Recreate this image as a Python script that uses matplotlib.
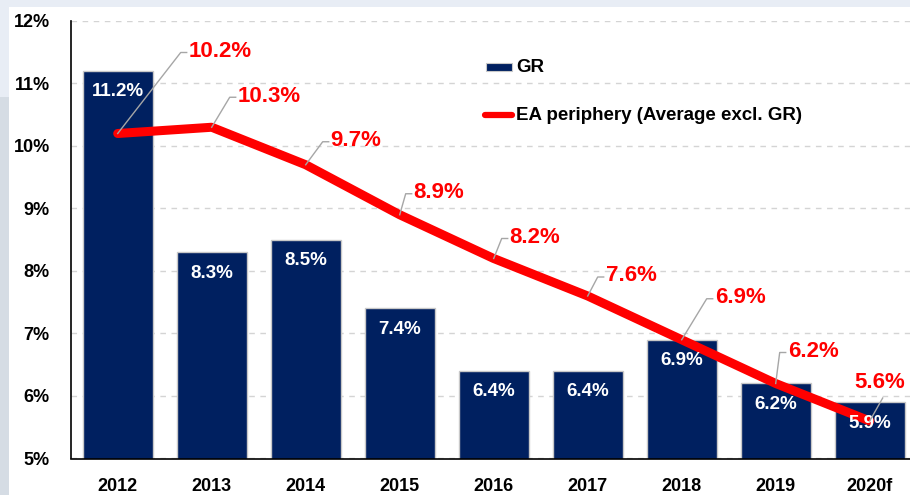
import matplotlib
matplotlib.use("Agg")
import matplotlib.pyplot as plt
from matplotlib.patches import Rectangle
from matplotlib.lines import Line2D
import matplotlib.transforms as mtransforms

years = ["2012", "2013", "2014", "2015", "2016", "2017", "2018", "2019", "2020f"]
gr_values = [11.2, 8.3, 8.5, 7.4, 6.4, 6.4, 6.9, 6.2, 5.9]
ea_values = [10.2, 10.3, 9.7, 8.9, 8.2, 7.6, 6.9, 6.2, 5.6]
y_ticks = [5, 6, 7, 8, 9, 10, 11, 12]

# leader-line offsets for red labels (pixels, dx right, dy up)
leader_offsets = [(63, 81), (18, 30), (17, 23), (6, 21), (8, 20), (10, 19), (25, 41), (4, 31), (13, 23)]

plt.rcParams['font.family'] = ['Liberation Sans', 'DejaVu Sans']

W, H = 910, 495
fig = plt.figure(figsize=(W / 100, H / 100), dpi=100)
fig.patch.set_facecolor("white")

# background bands
fig.add_artist(Rectangle((0, 1 - 7 / H), 1, 7 / H, transform=fig.transFigure,
                         facecolor="#E8EDF5", edgecolor="none", zorder=0))
fig.add_artist(Rectangle((0, 1 - 97 / H), 9 / W, 97 / H, transform=fig.transFigure,
                         facecolor="#E8EDF5", edgecolor="none", zorder=0))
fig.add_artist(Rectangle((0, 0), 9 / W, 1 - 97 / H, transform=fig.transFigure,
                         facecolor="#D5DCE4", edgecolor="none", zorder=0))

ax = fig.add_axes([70.7 / W, 36.5 / H, 846 / W, 437.5 / H])
ax.set_facecolor("none")

x = list(range(len(years)))
bars = ax.bar(x, gr_values, width=0.745, color="#002060", edgecolor="#C8C8C8",
              linewidth=1.0, zorder=2)
ax.plot(x, ea_values, color="#FF0000", linewidth=6.5, solid_capstyle="round", zorder=4)

ax.set_ylim(5, 12)
ax.set_xlim(-0.5, len(years) - 0.5)
ax.set_yticks(y_ticks)
ax.set_yticklabels([f"{t}%" for t in y_ticks], fontsize=13, fontweight="bold")
ax.set_xticks(x)
ax.set_xticklabels(years, fontsize=13, fontweight="bold")
ax.tick_params(axis="y", length=0, pad=15)
ax.tick_params(axis="x", length=0, pad=14)
ax.grid(axis="y", color="#D4D4D4", linestyle=(0, (4, 4)), linewidth=1.0, zorder=1)
ax.set_axisbelow(True)
for s in ["top", "right"]:
    ax.spines[s].set_visible(False)
for s in ["left", "bottom"]:
    ax.spines[s].set_color("black")
    ax.spines[s].set_linewidth(1.2)
    ax.spines[s].set_zorder(5)

# bar labels (white)
for xi, v in zip(x, gr_values):
    tr = mtransforms.offset_copy(ax.transData, fig=fig, x=0, y=-21, units="dots")
    ax.text(xi, v, f"{v:.1f}%", transform=tr, ha="center", va="center",
            color="white", fontsize=13.5, fontweight="bold", zorder=6)

# red labels with leader lines
n = len(years)
inv = fig.transFigure.inverted()
for i, (xi, v) in enumerate(zip(x, ea_values)):
    dx, dy = leader_offsets[i]
    base = ax.transData
    p0 = base.transform((xi, v))
    if i < n - 1:
        pts = inv.transform([p0, (p0[0] + dx, p0[1] + dy), (p0[0] + dx + 6, p0[1] + dy)])
        fig.add_artist(Line2D(pts[:, 0], pts[:, 1], transform=fig.transFigure,
                              color="#A6A6A6", linewidth=1.0, zorder=3))
        trt = mtransforms.offset_copy(base, fig=fig, x=dx + 8, y=dy + 1, units="dots")
        ax.text(xi, v, f"{v:.1f}%", transform=trt, ha="left", va="center",
                color="#FF0000", fontsize=16, fontweight="bold", zorder=7)
    else:
        pts = inv.transform([p0, (p0[0] + dx, p0[1] + dy)])
        fig.add_artist(Line2D(pts[:, 0], pts[:, 1], transform=fig.transFigure,
                              color="#A6A6A6", linewidth=1.0, zorder=3))
        trt = mtransforms.offset_copy(base, fig=fig, x=dx - 3, y=dy + 15, units="dots")
        ax.text(xi, v, f"{v:.1f}%", transform=trt, ha="center", va="center",
                color="#FF0000", fontsize=16, fontweight="bold", zorder=7)

# legend (manual)
fig.add_artist(Rectangle((486 / W, 1 - 71 / H), 26 / W, 8 / H, transform=fig.transFigure,
                         facecolor="#002060", edgecolor="#C8C8C8", linewidth=0.8, zorder=8))
fig.text(516 / W, 1 - 67 / H, "GR", ha="left", va="center", fontsize=13.5,
         fontweight="bold", color="black")
fig.add_artist(Line2D([485 / W, 512 / W], [1 - 115 / H, 1 - 115 / H], transform=fig.transFigure,
                      color="#FF0000", linewidth=4.5, solid_capstyle="round", zorder=8))
fig.text(516 / W, 1 - 116 / H, "EA periphery (Average excl. GR)", ha="left", va="center",
         fontsize=13.5, fontweight="bold", color="black")

fig.savefig("out.png", dpi=100, facecolor=fig.get_facecolor())
